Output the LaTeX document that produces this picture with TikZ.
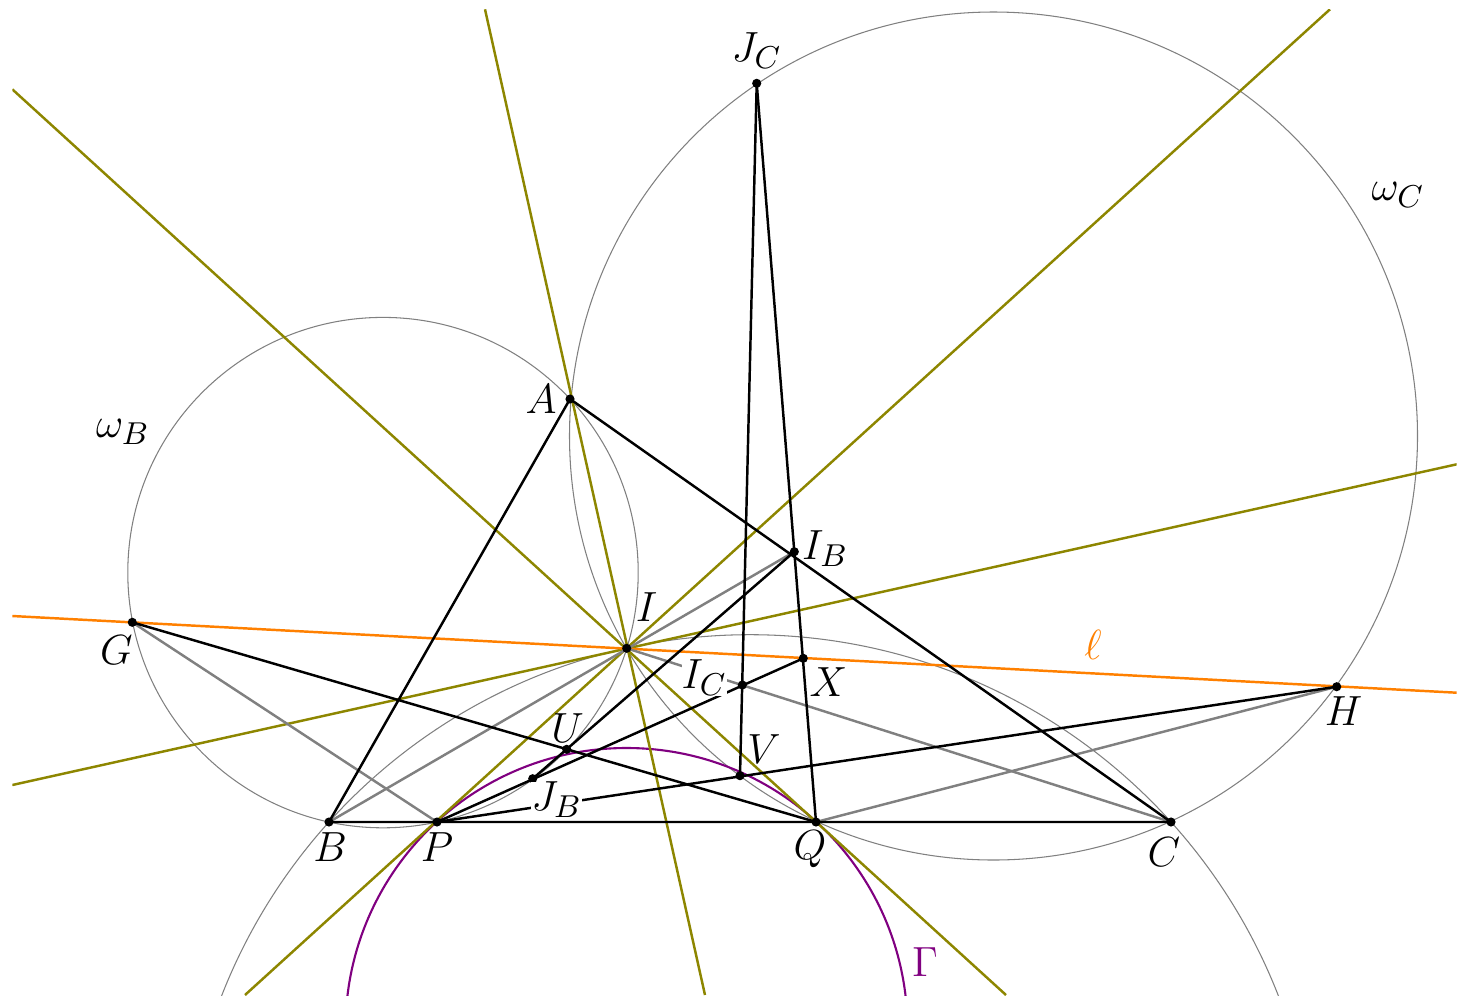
\documentclass[tikz,border=0pt]{standalone}
\usetikzlibrary{calc,positioning}

\begin{document}
\begin{tikzpicture}[
    seg/.style={line width=0.7pt},
    aux/.style={gray,line width=0.7pt},
    circ/.style={gray,line width=0.3pt},
    bis/.style={olive,line width=0.7pt},
    lbl/.style={inner sep=0.5pt,font=\fontsize{12.5}{15}\selectfont},
    cover/.style={fill=white,inner sep=0pt}
]
\useasboundingbox (0,0) rectangle (14.69,10.06);

% points
\coordinate (A) at (5.70,6.07);
\coordinate (B) at (3.29,1.84);
\coordinate (C) at (11.71,1.84);
\coordinate (P) at (4.37,1.84);
\coordinate (Q) at (8.16,1.84);
\coordinate (I) at (6.267,3.577);
\coordinate (IB) at (7.943,4.543);
\coordinate (IC) at (7.423,3.21);
\coordinate (JB) at (5.327,2.273);
\coordinate (JC) at (7.567,9.227);
\coordinate (G) at (1.323,3.837);
\coordinate (H) at (13.367,3.193);
\coordinate (X) at (8.033,3.477);
\coordinate (U) at (5.667,2.567);
\coordinate (V) at (7.40,2.303);

% ends of the long lines
\coordinate (a1) at (4.85,9.967);   \coordinate (a2) at (7.05,0.11);
\coordinate (p1) at (13.30,9.967);  \coordinate (p2) at (2.45,0.11);
\coordinate (q1) at (0.123,9.167);  \coordinate (q2) at (10.06,0.11);
\coordinate (e1) at (0.123,2.21);   \coordinate (e2) at (14.567,5.417);
\coordinate (l1) at (0.123,3.90);   \coordinate (l2) at (14.567,3.133);

\begin{scope}
    \clip (0.123,0.11) rectangle (14.567,9.967);
    \draw[circ] (3.83,4.334) circle (2.552);
    \draw[circ] (9.935,5.70) circle (4.24);
    \draw[circ] (7.50,-1.956) circle (5.669);
    \draw[violet,line width=0.6pt] (6.265,-0.23) circle (2.81);
    \draw[bis] (a1) -- (a2);
    \draw[bis] (p1) -- (p2);
    \draw[bis] (q1) -- (q2);
    \draw[bis] (e1) -- (e2);
    \draw[orange,line width=0.7pt] (l1) -- (l2);
\end{scope}

\draw[aux] (G) -- (P);
\draw[aux] (B) -- (IB);
\draw[aux] (I) -- (C);
\draw[aux] (H) -- (Q);

\draw[seg] (A) -- (B) -- (C) -- cycle;
\draw[seg] (JC) -- (Q);
\draw[seg] (JC) -- (V);
\draw[seg] (G) -- (Q);
\draw[seg] (P) -- (H);
\draw[seg] (P) -- (X);
\draw[seg] (JB) -- (IB);

\foreach \p in {A,B,C,P,Q,I,IB,IC,JB,JC,G,H,X,U,V}
    \fill (\p) circle (1.3pt);

\node[lbl] (lA) at ($(A)+(-0.29,0)$) {$A$};
\node[lbl] (lB) at ($(B)+(0.01,-0.25)$) {$B$};
\node[lbl] (lC) at ($(C)+(-0.07,-0.30)$) {$C$};
\node[lbl] (lP) at ($(P)+(0,-0.25)$) {$P$};
\node[lbl] (lQ) at ($(Q)+(-0.06,-0.27)$) {$Q$};
\node[lbl] (lG) at ($(G)+(-0.16,-0.28)$) {$G$};
\node[lbl] (lH) at ($(H)+(0.07,-0.24)$) {$H$};
\node[lbl] (lI) at ($(I)+(0.20,0.41)$) {$I$};
\node[lbl] (lIB) at ($(IB)+(0.31,0.03)$) {$I_B$};
\node[lbl,cover] (lIC) at ($(IC)+(-0.38,0.07)$) {$I_C$};
\node[lbl,cover] (lJB) at ($(JB)+(0.24,-0.21)$) {$J_B$};
\node[lbl] (lJC) at ($(JC)+(0,0.33)$) {$J_C$};
\node[lbl] (lX) at ($(X)+(0.25,-0.24)$) {$X$};
\node[lbl] (lU) at ($(U)+(0.01,0.21)$) {$U$};
\node[lbl] (lV) at ($(V)+(0.24,0.27)$) {$V$};

\node[lbl] (wB) at (1.23,5.74) {$\omega_B$};
\node[lbl] (wC) at (13.98,8.11) {$\omega_C$};
\node[lbl,text=orange] (ell) at (10.93,3.61) {$\ell$};
\node[lbl,text=violet] (gam) at (9.25,0.44) {$\Gamma$};
\end{tikzpicture}
\end{document}
